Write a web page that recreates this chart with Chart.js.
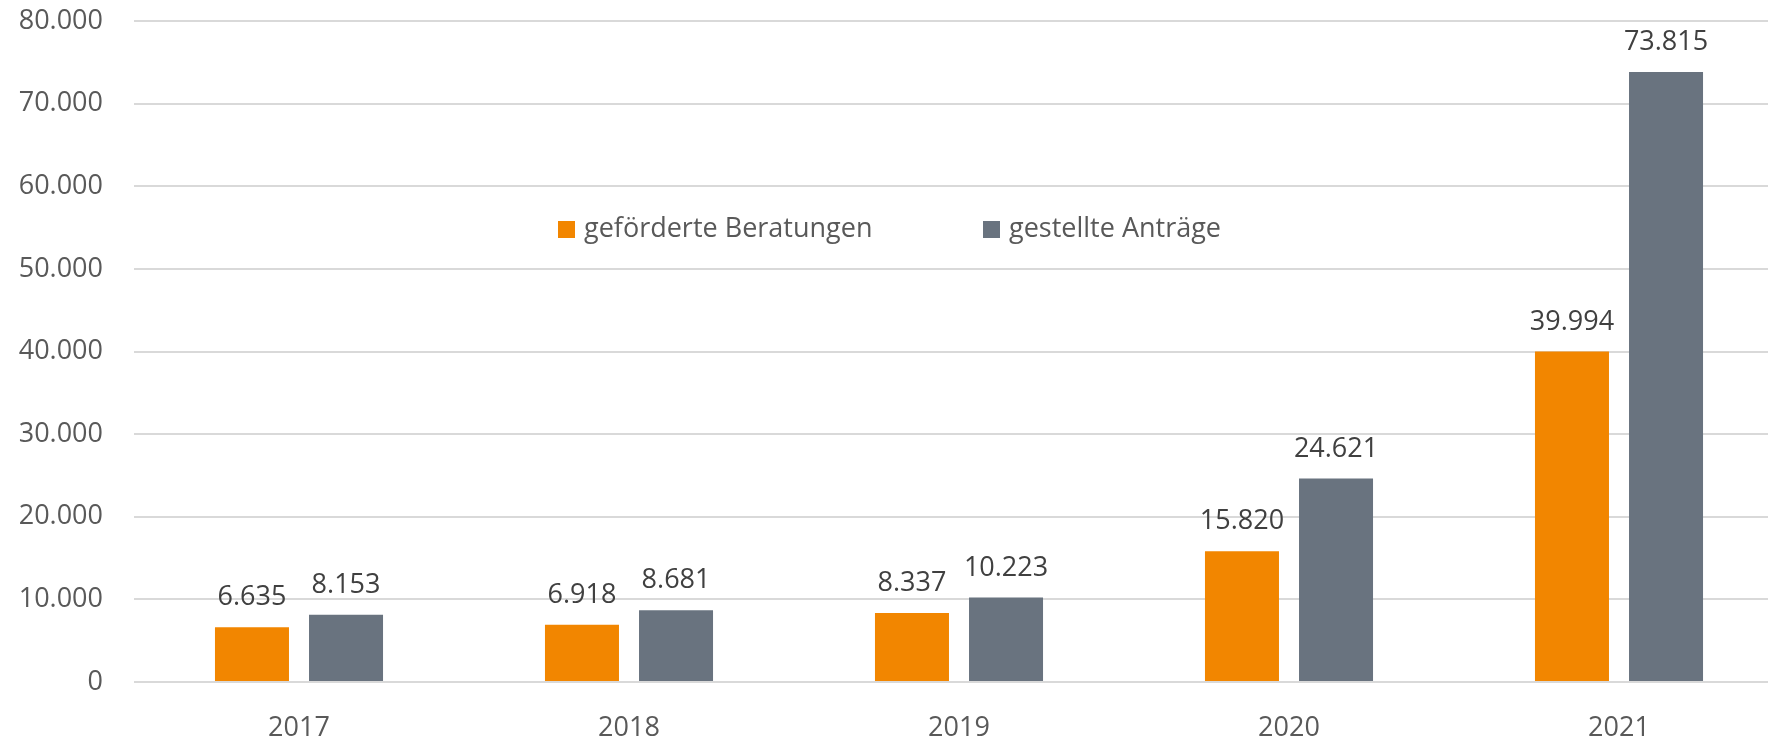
<!DOCTYPE html>
<html>
<head>
<meta charset="utf-8">
<script src="https://cdn.jsdelivr.net/npm/chart.js@4/dist/chart.umd.min.js"></script>
<style>
  html, body { margin: 0; padding: 0; background: #fff; overflow: hidden; }
  #wrap { width: 1784px; height: 738px; }
</style>
</head>
<body>
<div id="wrap"><canvas id="antraegeChart"></canvas></div>
<script>
const years = ["2017", "2018", "2019", "2020", "2021"];
const beratungen = [6635, 6918, 8337, 15820, 39994];
const antraege = [8153, 8681, 10223, 24621, 73815];
const yTicks = [0, 10000, 20000, 30000, 40000, 50000, 60000, 70000, 80000];

const FONT = "'Open Sans', 'Noto Sans', sans-serif";

function fmt(n) {
  return String(n).replace(/\B(?=(\d{3})+(?!\d))/g, ".");
}

// Werte über den Balken
const valueLabels = {
  id: "valueLabels",
  afterDatasetsDraw(chart) {
    const c = chart.ctx;
    c.save();
    c.font = "27px " + FONT;
    c.fillStyle = "#404040";
    c.textAlign = "center";
    c.textBaseline = "alphabetic";
    chart.data.datasets.forEach((ds, i) => {
      chart.getDatasetMeta(i).data.forEach((bar, j) => {
        c.fillText(fmt(ds.data[j]), bar.x, bar.y - 22);
      });
    });
    c.restore();
  },
};

// Legende mitten im Diagramm
const innerLegend = {
  id: "innerLegend",
  afterDraw(chart) {
    const c = chart.ctx;
    const xs = [558, 983];
    c.save();
    c.font = "27px " + FONT;
    c.textBaseline = "alphabetic";
    c.textAlign = "left";
    chart.data.datasets.forEach((ds, i) => {
      c.fillStyle = ds.backgroundColor;
      c.fillRect(xs[i], 221, 17, 17);
      c.fillStyle = "#595959";
      c.fillText(ds.label, xs[i] + 26, 237);
    });
    c.restore();
  },
};

new Chart(document.getElementById("antraegeChart"), {
  type: "bar",
  data: {
    labels: years,
    datasets: [
      {
        label: "geförderte Beratungen",
        data: beratungen,
        backgroundColor: "#F28600",
      },
      {
        label: "gestellte Anträge",
        data: antraege,
        backgroundColor: "#69737F",
      },
    ],
  },
  options: {
    responsive: true,
    maintainAspectRatio: false,
    animation: false,
    categoryPercentage: 0.57,
    barPercentage: 0.787,
    layout: { padding: { top: 21, right: 0, bottom: 0, left: 0 } },
    plugins: {
      legend: { display: false },
      tooltip: { enabled: false },
    },
    scales: {
      x: {
        grid: { display: false },
        border: { display: false },
        ticks: {
          color: "#595959",
          font: { family: FONT, size: 27 },
          padding: 22,
        },
        afterFit(scale) {
          scale.height = 56;
          scale.paddingTop = 0;
        },
      },
      y: {
        min: 0,
        max: 80000,
        afterBuildTicks(scale) {
          scale.ticks = yTicks.map((v) => ({ value: v }));
        },
        grid: { color: "#D9D9D9", lineWidth: 2, drawTicks: false },
        border: { display: false },
        ticks: {
          color: "#595959",
          font: { family: FONT, size: 27 },
          padding: 31,
          callback: (v) => fmt(v),
        },
        afterFit(scale) {
          scale.width = 134;
          scale.paddingTop = 0;
        },
      },
    },
  },
  plugins: [valueLabels, innerLegend],
});
</script>
</body>
</html>
